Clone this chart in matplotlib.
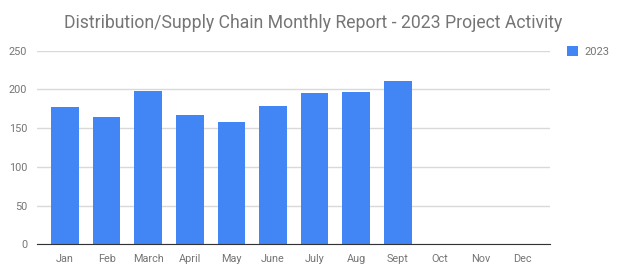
import matplotlib.pyplot as plt

months = ["Jan", "Feb", "March", "April", "May", "June", "July", "Aug", "Sept", "Oct", "Nov", "Dec"]
activity_2023 = [177, 165, 198, 167, 158, 179, 195, 197, 211, 0, 0, 0]
yticks = [0, 50, 100, 150, 200, 250]

plt.rcParams['font.family'] = ['Roboto', 'DejaVu Sans']

fig = plt.figure(figsize=(6.24, 2.77), dpi=100)
ax = fig.add_axes([37 / 624, 1 - 244.3 / 277, 513 / 624, 193.6 / 277])

x = range(len(months))
ax.bar(x, activity_2023, width=0.666, color="#4285f4", label="2023", zorder=3)

# google-style padding at both ends of the category axis
ax.set_xlim(-0.673, 11.66)
ax.set_ylim(0, 250)
ax.set_yticks(yticks)
ax.set_xticks(list(x))
ax.set_xticklabels(months)
ax.grid(axis="y", color="#d9d9d9", linewidth=1, zorder=0)
for s in ["top", "right", "left"]:
    ax.spines[s].set_visible(False)
ax.spines["bottom"].set_color("#333333")
ax.spines["bottom"].set_zorder(4)
ax.tick_params(length=0, colors="#757575", labelsize=7.8)
ax.tick_params(axis="x", pad=7)
ax.tick_params(axis="y", pad=7)

fig.text(0.502, 1 - 23 / 277, "Distribution/Supply Chain Monthly Report - 2023 Project Activity",
         ha="center", va="center", fontsize=12.7, color="#757575")

leg = fig.legend(loc="center left", bbox_to_anchor=(557 / 624, 1 - 51.5 / 277), frameon=False,
                 handlelength=0.95, handleheight=0.95, handletextpad=0.6, fontsize=8)
for t in leg.get_texts():
    t.set_color("#757575")

fig.savefig("out.png", dpi=100)
